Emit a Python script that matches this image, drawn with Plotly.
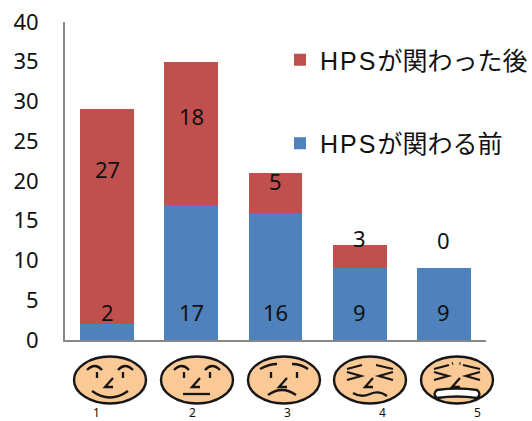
import plotly.graph_objects as go

# Pain score categories and patient counts
categories = [1, 2, 3, 4, 5]
before_hps = [2, 17, 16, 9, 9]
after_hps = [27, 18, 5, 3, 0]
before_name = '<span style="letter-spacing:2px">HPS</span>が関わる前'
after_name = '<span style="letter-spacing:2px">HPS</span>が関わった後'
y_ticks = [0, 5, 10, 15, 20, 25, 30, 35, 40]

# Heights at which the count labels sit
before_label_y = [3.5, 3.5, 3.5, 3.5, 3.5]
after_label_y = [21.5, 28.2, 20.0, 12.8, 12.6]

W, H = 532, 421
LEFT, RIGHT, TOP, BOTTOM = 65, 486, 22, 340
INK = "#161616"
SKIN = "#FBC995"
NUM_FONT = "Noto Sans, Open Sans, sans-serif"


def px(x):
    return (x - LEFT) / (RIGHT - LEFT)


def py(y):
    return (BOTTOM - y) / (BOTTOM - TOP)


def path_str(cx, cy, cmds):
    """Build an SVG path in paper units from offsets around a face centre."""
    out = []
    for cmd, *pts in cmds:
        coords = []
        for dx, dy in pts:
            coords.append(f"{px(cx + dx):.5f},{py(cy + dy):.5f}")
        out.append(cmd + " ".join(coords))
    return " ".join(out)


def stroke(cx, cy, cmds, width=2.3, fill=None):
    return dict(
        type="path", xref="paper", yref="paper", path=path_str(cx, cy, cmds),
        line=dict(color=INK, width=width),
        fillcolor=fill if fill else "rgba(0,0,0,0)", layer="above",
    )


def head(cx, cy):
    return dict(
        type="circle", xref="paper", yref="paper",
        x0=px(cx - 36), x1=px(cx + 36), y0=py(cy + 23.5), y1=py(cy - 23.5),
        line=dict(color=INK, width=2.4), fillcolor=SKIN, layer="above",
    )


NOSE = [("M", (3, -2)), ("L", (-5, 7)), ("L", (3, 7))]
UP_BROW_L = [("M", (-23, -10)), ("Q", (-15, -18), (-8, -10))]
UP_BROW_R = [("M", (8, -10)), ("Q", (15, -18), (23, -10))]
SAD_BROW_L = [("M", (-24, -11)), ("Q", (-15, -16), (-7, -16))]
SAD_BROW_R = [("M", (8, -16)), ("Q", (17, -16), (24, -11))]
EYE_L = [("M", (-13, -8)), ("L", (-13, -2))]
EYE_R = [("M", (13, -8)), ("L", (13, -2))]
SQUINT_L = [("M", (-23, -8)), ("L", (-9, -4)), ("L", (-23, 0))]
SQUINT_R = [("M", (23, -8)), ("L", (9, -4)), ("L", (23, 0))]
TENSE_BROW_L = [("M", (-23, -11)), ("L", (-8, -15))]
TENSE_BROW_R = [("M", (6, -15)), ("L", (23, -11))]

faces = [
    (110, 380, [UP_BROW_L, UP_BROW_R, EYE_L, EYE_R, NOSE,
                [("M", (-18, 11)), ("Q", (0, 24), (18, 11))]]),
    (197, 380, [UP_BROW_L, UP_BROW_R, EYE_L, EYE_R, NOSE,
                [("M", (-14, 14)), ("L", (13, 14))]]),
    (284, 380, [SAD_BROW_L, SAD_BROW_R, EYE_L, EYE_R, NOSE,
                [("M", (-16, 15)), ("Q", (-2, 5), (12, 15))]]),
    (370, 380, [TENSE_BROW_L, TENSE_BROW_R, SQUINT_L, SQUINT_R, NOSE,
                [("M", (-17, 13)), ("Q", (-9, 18), (0, 14)),
                 ("Q", (9, 10), (17, 16))]]),
    (457, 380, [TENSE_BROW_L, TENSE_BROW_R, SQUINT_L, SQUINT_R, NOSE]),
]

shapes = []
for cx, cy, parts in faces:
    shapes.append(head(cx, cy))
    for part in parts:
        shapes.append(stroke(cx, cy, part))

# Clenched teeth and forehead creases on the last face
shapes.append(stroke(457, 380, [("M", (-20, 10)), ("Q", (0, 7), (20, 10)),
                                ("Q", (25, 14), (20, 18)),
                                ("Q", (0, 15), (-20, 18)),
                                ("Q", (-25, 14), (-20, 10)), ("Z",)],
                     width=2.4, fill="#ffffff"))
shapes.append(stroke(457, 380, [("M", (-5, -18)), ("L", (-4, -15))], width=1))
shapes.append(stroke(457, 380, [("M", (3, -18)), ("L", (3, -15))], width=1))

fig = go.Figure()
fig.add_bar(x=categories, y=before_hps, name=before_name, legendgroup="before",
            legendrank=2, marker=dict(color="#4F81BD", line=dict(width=0)))
fig.add_bar(x=categories, y=after_hps, name=after_name, legendgroup="after",
            legendrank=1, marker=dict(color="#C0504D", line=dict(width=0)))

annotations = []
for cat, val, pos in zip(categories, before_hps, before_label_y):
    annotations.append(dict(x=cat, y=pos, text=str(val), showarrow=False,
                            font=dict(family=NUM_FONT, size=22, color="#111")))
for cat, val, pos in zip(categories, after_hps, after_label_y):
    annotations.append(dict(x=cat, y=pos, text=str(val), showarrow=False,
                            font=dict(family=NUM_FONT, size=22, color="#111")))

# Small numbers under the faces
for cat, x in zip(categories, [96, 192, 287, 382, 477]):
    annotations.append(dict(xref="paper", yref="paper", x=px(x), y=py(412.5),
                            text=str(cat), showarrow=False, xanchor="center",
                            yanchor="middle",
                            font=dict(family=NUM_FONT, size=12, color="#111")))

fig.update_layout(
    width=W, height=H, barmode="stack", bargap=0.36,
    margin=dict(l=LEFT, r=W - RIGHT, t=TOP, b=H - BOTTOM, autoexpand=False),
    paper_bgcolor="white", plot_bgcolor="white",
    xaxis=dict(range=[0.5, 5.5], showticklabels=False, ticks="",
               showgrid=False, zeroline=False, showline=True,
               linecolor="#868686", linewidth=2),
    yaxis=dict(range=[0, 40], tickvals=y_ticks, ticks="", showgrid=False,
               zeroline=False, showline=True, linecolor="#868686", linewidth=2,
               ticklabelstandoff=20,
               tickfont=dict(family=NUM_FONT, size=22, color="#111")),
    legend=dict(x=px(280), y=py(37), xanchor="left", yanchor="top",
                traceorder="grouped", tracegroupgap=48,
                bgcolor="rgba(0,0,0,0)",
                font=dict(family="Liberation Sans, Noto Sans CJK JP",
                          size=25, color="#111")),
    shapes=shapes, annotations=annotations, showlegend=True,
)

fig.write_html("out.html")
